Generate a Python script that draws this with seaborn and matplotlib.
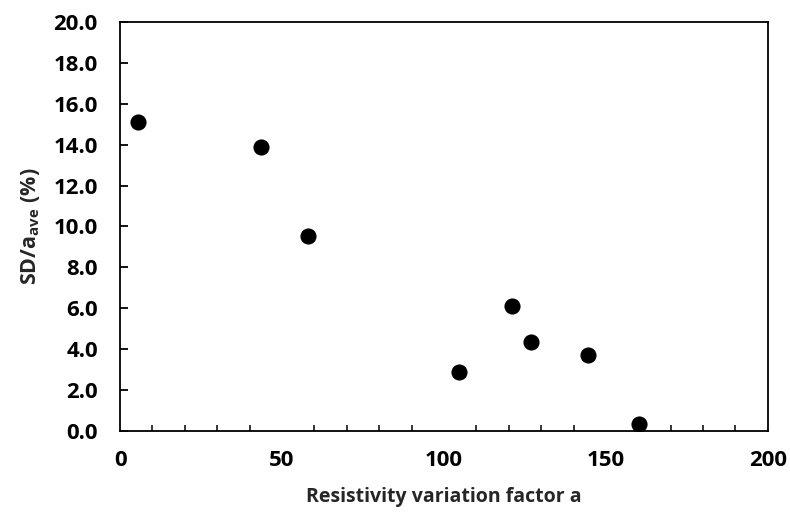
import matplotlib
matplotlib.use("Agg")
import matplotlib.pyplot as plt
from matplotlib.ticker import MultipleLocator, FormatStrFormatter
import seaborn as sns
import pandas as pd

# Data
resistivity_factor = [5.6, 43.5, 58.0, 104.6, 121.0, 126.9, 144.4, 160.2]
sd_ratio_pct = [15.1, 13.9, 9.55, 2.9, 6.1, 4.35, 3.7, 0.33]

df = pd.DataFrame({"a": resistivity_factor, "sd": sd_ratio_pct})

sns.set_style("white")
FONT = "Open Sans"
plt.rcParams["font.family"] = [FONT, "DejaVu Sans"]
plt.rcParams["font.weight"] = "bold"
plt.rcParams["mathtext.fontset"] = "custom"
plt.rcParams["mathtext.rm"] = FONT + ":bold"
plt.rcParams["mathtext.bf"] = FONT + ":bold"
plt.rcParams["mathtext.it"] = FONT + ":bold"

fig = plt.figure(figsize=(7.9, 5.19), dpi=100)
ax = fig.add_axes([0.152, 0.1696, 0.820, 0.788])

sns.scatterplot(data=df, x="a", y="sd", ax=ax, color="black", s=135,
                edgecolor="black", linewidth=0, zorder=3)

ax.set_xlim(0, 200)
ax.set_ylim(0, 20)
ax.xaxis.set_major_locator(MultipleLocator(50))
ax.xaxis.set_minor_locator(MultipleLocator(10))
ax.yaxis.set_major_locator(MultipleLocator(2))
ax.yaxis.set_major_formatter(FormatStrFormatter("%.1f"))

for sp in ax.spines.values():
    sp.set_visible(True)
    sp.set_color("black")
    sp.set_linewidth(1.3)

ax.tick_params(axis="x", which="major", direction="in", length=6, width=1.3,
               pad=14, labelsize=16, colors="black")
ax.tick_params(axis="x", which="minor", direction="in", length=4, width=1.3,
               bottom=True)
ax.tick_params(axis="y", which="major", direction="in", length=6, width=1.3,
               pad=16, labelsize=16, colors="black", left=True)
ax.tick_params(axis="y", which="minor", left=False)

for lbl in ax.get_xticklabels() + ax.get_yticklabels():
    lbl.set_fontweight("bold")

ax.set_xlabel("Resistivity variation factor a", fontsize=14, fontweight="bold",
              labelpad=11)
ax.set_ylabel(r"SD/a$_{\mathregular{ave}}$ (%)", fontsize=15.5, fontweight="bold",
              labelpad=8)

fig.savefig("out.png", dpi=100)
